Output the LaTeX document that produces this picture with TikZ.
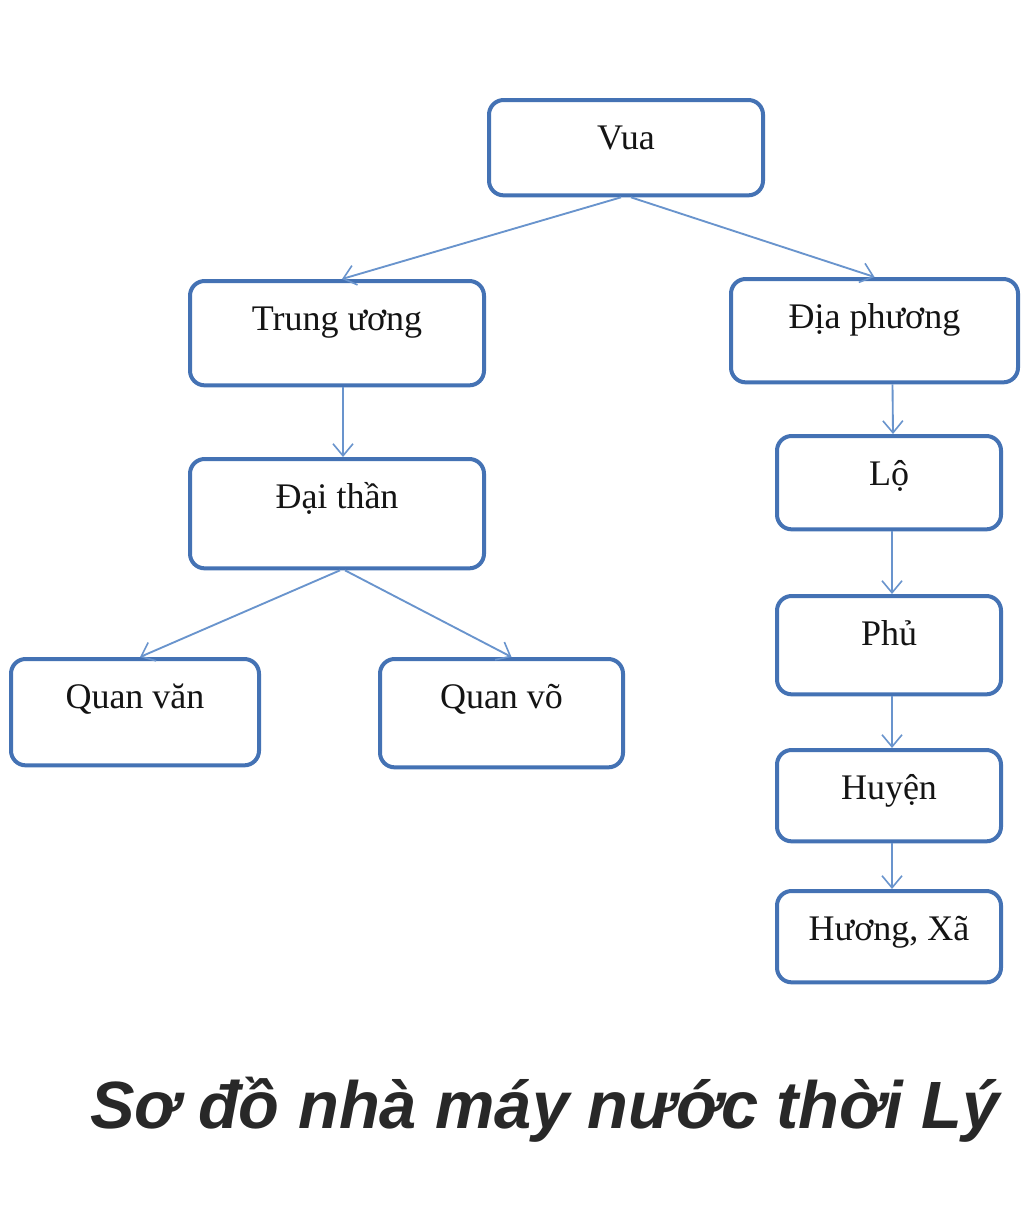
\documentclass[tikz,border=0pt]{standalone}
\usepackage{fontspec}
\setmainfont{Liberation Serif}
\newfontfamily\titlefont{Liberation Sans}
\usetikzlibrary{arrows.meta,calc}
\definecolor{boxblue}{RGB}{68,114,180}
\definecolor{linkblue}{RGB}{105,148,205}
\definecolor{titlegray}{RGB}{40,40,40}
\begin{document}
\begin{tikzpicture}[x=0.75pt,y=-0.75pt,
  box/.style={draw=boxblue, line width=3pt, rounded corners=11pt, fill=white,
    anchor=north, inner xsep=0pt, inner ysep=0pt, text height=37pt,
    font=\fontsize{27}{30}\selectfont, text=black!92},
  link/.style={draw=linkblue, line width=1.4pt,
    -{Straight Barb[length=9pt,width=15pt,line width=1.2pt]}}]
\fill[white] (0,0) rectangle (1024,1210);
\useasboundingbox (0,0) rectangle (1024,1210);

\node[box, minimum width=205.5pt, text depth=34.5pt] (vua) at (626,98) {Vua};
\node[box, minimum width=220.5pt, text depth=41.25pt] (tw) at (337,279) {Trung ương};
\node[box, minimum width=215.25pt, text depth=40.5pt] (dp) at (874.5,277) {Địa phương};
\node[box, minimum width=220.5pt, text depth=45pt] (dt) at (337,457) {Đại thần};
\node[box, minimum width=186pt, text depth=42.75pt] (qv) at (135,657) {Quan văn};
\node[box, minimum width=182.25pt, text depth=44.25pt] (qvo) at (501.5,657) {Quan võ};
\node[box, minimum width=168pt, text depth=33pt] (lo) at (889,434) {Lộ};
\node[box, minimum width=168pt, text depth=36.75pt] (phu) at (889,594) {Phủ};
\node[box, minimum width=168pt, text depth=31.5pt] (huyen) at (889,748) {Huyện};
\node[box, minimum width=168pt, text depth=31.5pt] (huong) at (889,889) {Hương, Xã};

\draw[link] ($(vua.south)+(-5,0)$) -- ($(tw.north)+(5,0)$);
\draw[link] ($(vua.south)+(5,0)$) -- (dp.north);
\draw[link] ($(tw.south)+(6,0)$) -- ($(dt.north)+(6,0)$);
\draw[link] ($(dt.south)+(3,0)$) -- ($(qv.north)+(5,0)$);
\draw[link] ($(dt.south)+(8,0)$) -- ($(qvo.north)+(10,0)$);
\draw[link] ($(dp.south)+(18,0)$) -- ($(lo.north)+(4,0)$);
\draw[link] ($(lo.south)+(3,0)$) -- ($(phu.north)+(3,0)$);
\draw[link] ($(phu.south)+(3,0)$) -- ($(huyen.north)+(3,0)$);
\draw[link] ($(huyen.south)+(3,0)$) -- ($(huong.north)+(3,0)$);

\node[anchor=base, text=titlegray, inner sep=0pt] (title) at (545,1128)
  {\resizebox{682pt}{34.5pt}{\titlefont\fontsize{48}{50}\selectfont\bfseries\itshape\raisebox{0pt}[\fontcharht\font`S][0pt]{Sơ đồ nhà máy nước thời Lý}}};
\end{tikzpicture}
\end{document}
